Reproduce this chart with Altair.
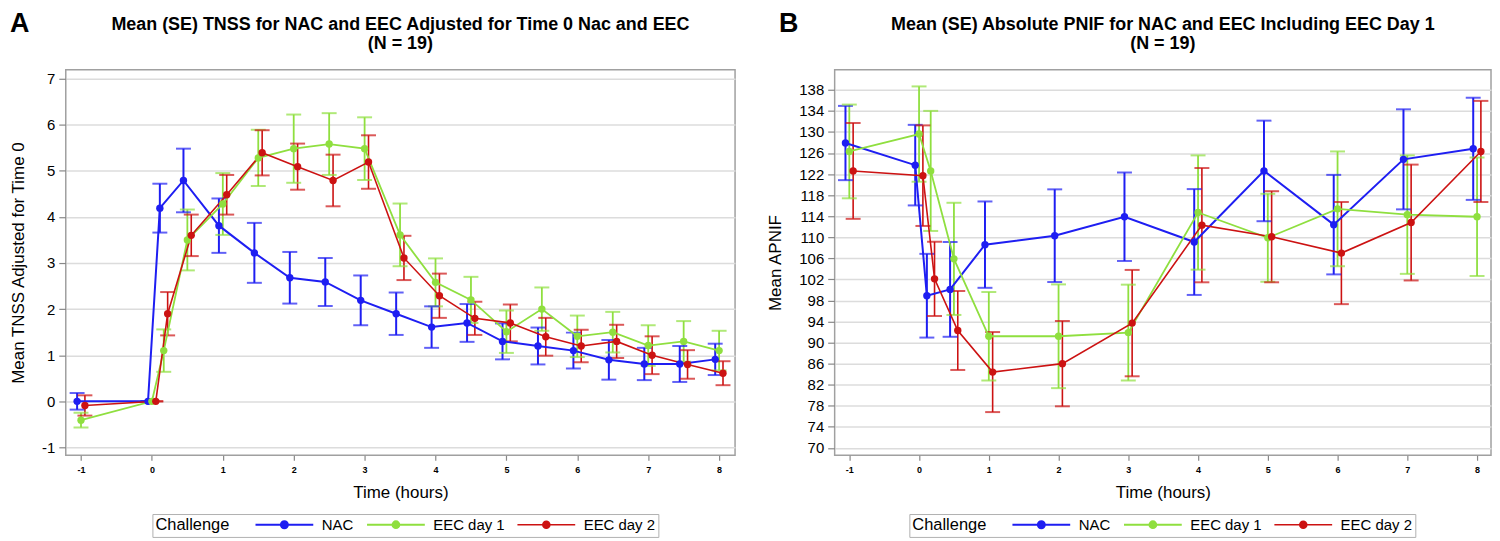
import altair as alt
import pandas as pd

SERIES = ["NAC", "EEC day 1", "EEC day 2"]
COLORS = ["#1e1ef2", "#8fdf3f", "#cc1212"]
FONT = "Liberation Sans"

# ---------------- Panel A: TNSS ----------------
A_time = [-1, 0, 0.167, 0.5, 1, 1.5, 2, 2.5, 3, 3.5, 4, 4.5, 5, 5.5, 6, 6.5, 7, 7.5, 8]
A_nac_mean = [0.0, 0.0, 4.19, 4.79, 3.81, 3.22, 2.68, 2.59, 2.19, 1.90, 1.61, 1.70, 1.30, 1.20, 1.10, 0.90, 0.81, 0.81, 0.91]
A_nac_se = [0.18, 0.0, 0.53, 0.69, 0.59, 0.65, 0.56, 0.52, 0.54, 0.46, 0.45, 0.41, 0.39, 0.40, 0.39, 0.43, 0.35, 0.39, 0.34]
A_eec1_mean = [-0.41, 0.0, 1.10, 3.50, 4.28, 5.28, 5.48, 5.58, 5.48, 3.61, 2.58, 2.20, 1.51, 2.00, 1.41, 1.50, 1.21, 1.30, 1.10]
A_eec1_se = [0.16, 0.0, 0.46, 0.66, 0.67, 0.61, 0.74, 0.67, 0.68, 0.68, 0.52, 0.50, 0.46, 0.47, 0.45, 0.44, 0.44, 0.44, 0.43]
A_eec2_mean = [-0.09, 0.0, 1.90, 3.60, 4.48, 5.39, 5.09, 4.79, 5.19, 3.11, 2.29, 1.80, 1.70, 1.40, 1.20, 1.30, 1.00, 0.80, 0.61]
A_eec2_se = [0.22, 0.0, 0.47, 0.45, 0.43, 0.49, 0.50, 0.56, 0.58, 0.48, 0.48, 0.36, 0.40, 0.41, 0.35, 0.36, 0.41, 0.31, 0.26]
A_yticks = [-1, 0, 1, 2, 3, 4, 5, 6, 7]
A_title = ["Mean (SE) TNSS for NAC and EEC Adjusted for Time 0 Nac and EEC", "(N = 19)"]

# ---------------- Panel B: PNIF ----------------
B_time = [-1, 0, 0.167, 0.5, 1, 2, 3, 4, 5, 6, 7, 8]
B_nac_mean = [127.9, 123.7, 98.9, 100.1, 108.6, 110.3, 113.9, 109.1, 122.6, 112.4, 124.8, 126.8]
B_nac_se = [7.05, 7.65, 7.95, 9.0, 8.2, 8.8, 8.4, 10.05, 9.55, 9.45, 9.5, 9.7]
B_eec1_mean = [126.3, 129.6, 122.6, 105.9, 91.2, 91.2, 91.9, 114.7, 109.9, 115.4, 114.3, 113.9]
B_eec1_se = [8.9, 9.05, 11.4, 10.65, 8.4, 9.85, 9.1, 10.85, 8.35, 10.9, 11.25, 11.25]
B_eec2_mean = [122.6, 121.7, 102.1, 92.3, 84.4, 86.0, 93.7, 112.3, 110.1, 107.0, 112.8, 126.3]
B_eec2_se = [9.1, 9.55, 7.05, 7.5, 7.6, 8.1, 10.1, 10.85, 8.65, 9.7, 11.0, 9.6]
B_yticks = list(range(70, 139, 4))
B_title = ["Mean (SE) Absolute PNIF for NAC and EEC Including EEC Day 1", "(N = 19)"]

X_TICKS = [-1, 0, 1, 2, 3, 4, 5, 6, 7, 8]


def long_df(times, means, ses):
    rows = []
    for s, m, e in zip(SERIES, means, ses):
        for t, mv, ev in zip(times, m, e):
            rows.append({"series": s, "time": t, "mean": mv, "lo": mv - ev, "hi": mv + ev})
    return pd.DataFrame(rows)


LEGEND_PATH = "M-5.8,0L5.8,0M-0.7,0A0.7,0.7,0,1,1,0.7,0A0.7,0.7,0,1,1,-0.7,0Z"
HYPHEN = "replace(datum.label, '\u2212', '-')"


def panel(df, letter, title_lines, ytitle, ydomain, yticks, xdomain, w, h, legend_x, legend_y):
    cscale = alt.Scale(domain=SERIES, range=COLORS)
    leg = alt.Legend(
        orient="none", legendX=legend_x, legendY=legend_y, direction="horizontal",
        title="Challenge", titleOrient="left", titleFontSize=16.5, titleFontWeight="normal",
        titleFont=FONT, titleColor="#000", titlePadding=47, titleBaseline="middle",
        labelFont=FONT, labelFontSize=15, labelColor="#000", labelOffset=30,
        symbolType=LEGEND_PATH, symbolSize=100, symbolStrokeWidth=2,
        columnPadding=9, strokeColor="#b0b0b0", fillColor="white", padding=3,
        cornerRadius=0, symbolOpacity=1,
    )
    stroke = alt.Stroke("series:N", scale=cscale, legend=leg, sort=SERIES)
    fill = alt.Fill("series:N", scale=cscale, legend=leg, sort=SERIES)
    swidth = alt.StrokeWidth("series:N", scale=alt.Scale(domain=SERIES, range=[2, 1.6, 2]), legend=None)

    xs = alt.Scale(domain=xdomain, nice=False, zero=False)
    ys = alt.Scale(domain=ydomain, nice=False, zero=False)
    yaxis = alt.Axis(values=yticks, title=ytitle, grid=True, labelFontSize=15, labelOverlap=False,
                     titleFontSize=17, titlePadding=14, tickSize=7, labelPadding=4, labelExpr=HYPHEN)
    xaxis = alt.Axis(values=X_TICKS, title="Time (hours)", grid=False, format="d",
                     labelFontSize=9, labelFontWeight="bold", labelPadding=5, labelOverlap=False,
                     titleFontSize=17, titlePadding=10, tickSize=5, labelExpr=HYPHEN)

    base = alt.Chart(df).transform_calculate(
        xp="datum.time + (datum.series == 'NAC' ? -0.055 : (datum.series == 'EEC day 2' ? 0.055 : 0))"
    )
    x = alt.X("xp:Q", scale=xs, axis=xaxis)
    y = alt.Y("mean:Q", scale=ys, axis=yaxis)

    rules = base.mark_rule().encode(x=x, y=alt.Y("lo:Q", scale=ys, axis=yaxis),
                                     y2="hi:Q", stroke=stroke, strokeWidth=swidth)
    cap_lo = base.mark_tick(orient="horizontal", size=15, thickness=2).encode(
        x=x, y=alt.Y("lo:Q", scale=ys, axis=yaxis), fill=fill)
    cap_hi = base.mark_tick(orient="horizontal", size=15, thickness=2).encode(
        x=x, y=alt.Y("hi:Q", scale=ys, axis=yaxis), fill=fill)
    lines = base.mark_line().encode(x=x, y=y, stroke=stroke, strokeWidth=swidth, order="xp:Q")
    points = base.mark_point(filled=True, size=55, opacity=1).encode(x=x, y=y, fill=fill)

    label = alt.Chart(pd.DataFrame({"t": [letter]})).mark_text(
        fontSize=27, fontWeight="bold", align="left", baseline="top", font=FONT, color="#000"
    ).encode(x=alt.value(-56), y=alt.value(-59), text="t:N")

    ttl = alt.Chart(pd.DataFrame({"t": [title_lines[0]]})).mark_text(
        fontSize=18, fontWeight="bold", align="center", baseline="alphabetic", font=FONT,
        color="#000", lineHeight=19,
    ).encode(x=alt.value(w / 2), y=alt.value(-40), text=alt.value(title_lines))

    return alt.layer(rules, cap_lo, cap_hi, lines, points, label, ttl).properties(width=w, height=h)


dfA = long_df(A_time, [A_nac_mean, A_eec1_mean, A_eec2_mean], [A_nac_se, A_eec1_se, A_eec2_se])
dfB = long_df(B_time, [B_nac_mean, B_eec1_mean, B_eec2_mean], [B_nac_se, B_eec1_se, B_eec2_se])

pA = panel(dfA, "A", A_title, "Mean TNSS Adjusted for Time 0", [-1.17, 7.19], A_yticks,
           [-1.215, 8.225], 672, 387, 87, 446)
pB = panel(dfB, "B", B_title, "Mean APNIF", [68.6, 141.8], B_yticks, [-1.21, 8.2], 659, 387, 75, 446)

chart = alt.hconcat(pA, pB, spacing=30).resolve_scale(
    stroke="independent", fill="independent", strokeWidth="independent", x="independent", y="independent"
).resolve_legend(stroke="independent", fill="independent").configure(
    padding=0, font=FONT
).configure_view(
    stroke="#a0a0a0", strokeWidth=1.5
).configure_axis(
    domain=False, tickColor="#888888", tickWidth=1.2, gridColor="#dcdcdc", gridWidth=1.5,
    labelColor="#000", titleColor="#000", labelFont=FONT, titleFont=FONT, titleFontWeight="normal"
)

chart.save("out.html", embed_options={"renderer": "svg", "actions": False})
